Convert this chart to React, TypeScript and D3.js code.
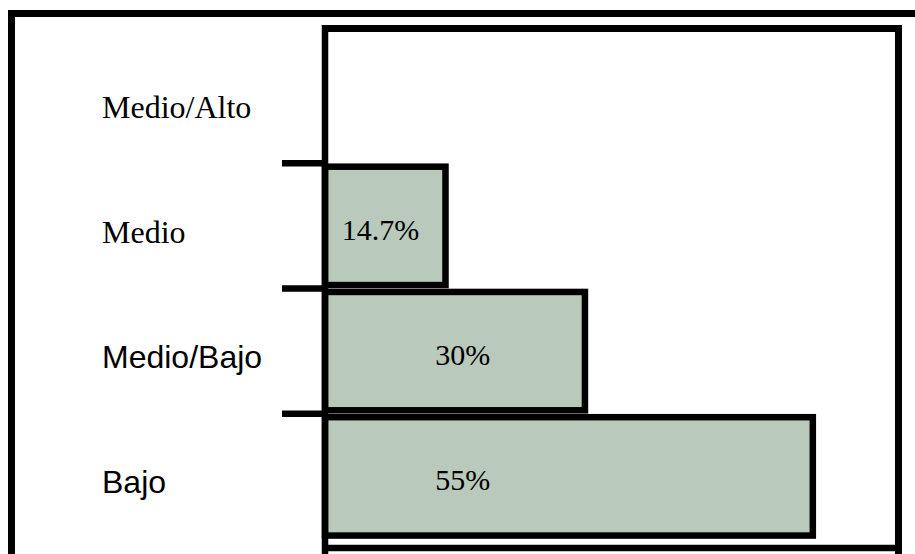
import * as d3 from 'd3';

// categories top to bottom, the top one has no bar
const categories = ['Medio/Alto', 'Medio', 'Medio/Bajo', 'Bajo'];
const values: (number | null)[] = [null, 14.7, 30, 55];
const valueLabels = ['', '14.7%', '30%', '55%'];
const serifLabels = ['Medio/Alto', 'Medio'];

const W = 915;
const H = 554;
const frame = { left: 325, top: 28.5, right: 898.5, bottom: 548 };

const App = () => {
  const y = d3.scaleBand<string>()
    .domain(categories)
    .range([38, 539])
    .paddingInner(0.055)
    .paddingOuter(0.0275);

  // zero sits a little left of the frame edge in the original
  const x = d3.scaleLinear().domain([0, 64.4]).range([311.5, frame.right]);

  const step = y.step();
  const boundaries = categories.slice(1).map(c => (y(c) || 0) - (step * y.paddingInner()) / 2);

  return (
    <svg
      width={W}
      height={H}
      style={{ position: 'absolute', left: 0, top: 0, background: '#fff' }}
    >
      {/* outer border (top and left only) */}
      <line x1={8} x2={W} y1={13.5} y2={13.5} stroke="#000" strokeWidth={7} />
      <line x1={11.5} x2={11.5} y1={10} y2={H} stroke="#000" strokeWidth={7} />

      {/* bars */}
      {categories.map((c, i) => {
        const v = values[i];
        if (v == null) return null;
        const y0 = y(c) || 0;
        const x1 = x(v);
        return (
          <g key={c}>
            <rect
              x={frame.left}
              y={y0}
              width={x1 - frame.left}
              height={y.bandwidth()}
              fill="#b9c9bb"
              stroke="#000"
              strokeWidth={6.5}
            />
            <text
              x={x(Math.min(v, 30) * 0.59) - 10}
              y={y0 + y.bandwidth() / 2 + 14}
              textAnchor="middle"
              fontFamily="'Liberation Serif', 'Times New Roman', serif"
              fontSize={30}
              fill="#000"
            >
              {valueLabels[i]}
            </text>
          </g>
        );
      })}

      {/* plot frame */}
      <line x1={frame.left} x2={frame.right} y1={frame.top} y2={frame.top} stroke="#000" strokeWidth={7} />
      <line x1={frame.left} x2={frame.right} y1={frame.bottom} y2={frame.bottom} stroke="#000" strokeWidth={6.5} />
      <line x1={frame.left} x2={frame.left} y1={frame.top - 3.5} y2={H} stroke="#000" strokeWidth={6.5} />
      <line x1={frame.right} x2={frame.right} y1={frame.top - 3.5} y2={H} stroke="#000" strokeWidth={7} />

      {/* category ticks */}
      {boundaries.map((b, i) => (
        <line key={i} x1={282} x2={frame.left} y1={b} y2={b} stroke="#000" strokeWidth={6.5} />
      ))}

      {/* category labels */}
      {categories.map(c => (
        <text
          key={c}
          x={102}
          y={(y(c) || 0) + y.bandwidth() / 2 + 17}
          fontFamily={serifLabels.includes(c)
            ? "'Liberation Serif', 'Times New Roman', serif"
            : "'Liberation Sans', Arial, sans-serif"}
          fontSize={32}
          fill="#000"
        >
          {c}
        </text>
      ))}
    </svg>
  );
};

export default App;
